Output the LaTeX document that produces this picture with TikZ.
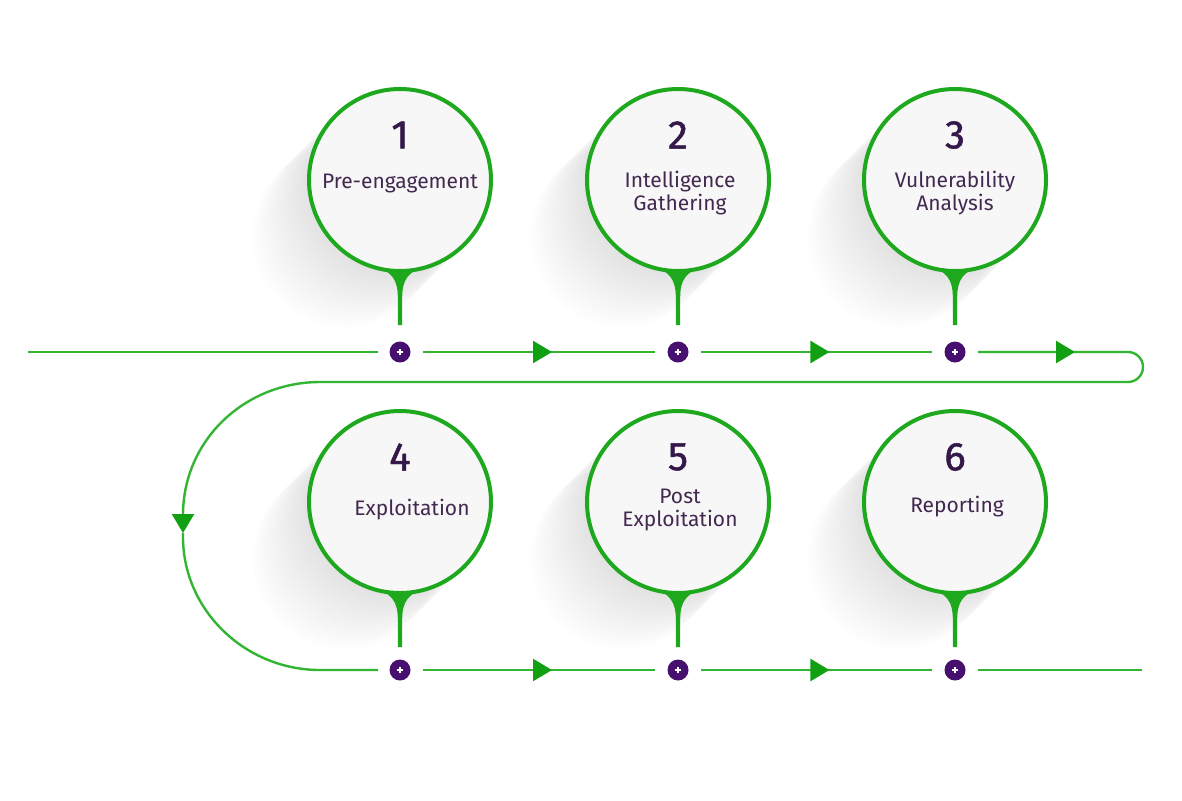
\documentclass[tikz,border=0pt]{standalone}
\usepackage{fontspec}
\setmainfont{Fira Sans}
\newfontfamily\numfont{Fira Sans}[FakeBold=1.2]
\usetikzlibrary{arrows.meta,decorations.markings,calc}
\definecolor{gline}{HTML}{33B533}
\definecolor{gring}{HTML}{1EA81E}
\definecolor{gtip}{HTML}{11A011}
\definecolor{dotc}{HTML}{48106E}
\definecolor{txt}{HTML}{43284F}
\definecolor{numc}{HTML}{35184A}
\definecolor{disk}{HTML}{F7F7F7}
\tikzset{
  stepcircle/.style={circle,draw=gring,line width=2pt,fill=disk,minimum size=91pt,inner sep=0pt},
  numtext/.style={font=\numfont\fontsize{20}{22}\selectfont,text=numc,inner sep=0pt},
  labtext/.style={font=\fontsize{10.5}{11.5}\selectfont,text=txt,align=center,inner sep=0pt},
  dotnode/.style={circle,fill=dotc,minimum size=10.5pt,inner sep=0pt,
    path picture={\draw[white,line width=0.75pt] ($(path picture bounding box.center)+(-1.7pt,0pt)$) -- ++(3.4pt,0pt)
      ($(path picture bounding box.center)+(0pt,-1.7pt)$) -- ++(0pt,3.4pt);}},
  flow/.style={draw=gline,line width=1.2pt},
  tiptri/.tip={Triangle[length=9.5pt,width=11pt,color=gtip]},
  arrowat/.style={postaction={decorate},decoration={markings,mark=at position #1 with {\arrow{tiptri}}}},
  stem/.pic={\fill[gring] (-30,85) .. controls (-7,91) and (-2.2,100) .. (-2.2,118) -- (-2.2,145) -- (2.2,145) -- (2.2,118) .. controls (2.2,100) and (7,91) .. (30,85) -- cycle;},
  castshadow/.pic={\foreach \k in {1,...,14}{\fill[black,opacity=0.008] (-\k*4,\k*4) circle[radius=45.5pt];}}
}
\begin{document}
\begin{tikzpicture}[x=0.5pt,y=-0.5pt]
\useasboundingbox (0,0) rectangle (1182,800);
\fill[white] (0,0) rectangle (1182,800);
% centres
\coordinate (p1) at (400,180);
\coordinate (p2) at (678,180);
\coordinate (p3) at (955,180);
\coordinate (p4) at (400,502);
\coordinate (p5) at (678,502);
\coordinate (p6) at (955,502);
% shadows and stems
\foreach \i in {1,...,6}{
  \pic at (p\i) {castshadow};
  \pic at (p\i) {stem};
}
% circles
\foreach \i in {1,...,6}{
  \node[stepcircle] (c\i) at (p\i) {};
}
% numbers and labels
\node[numtext] (n1) at (400,135) {1};
\node[numtext] (n2) at (678,135) {2};
\node[numtext] (n3) at (955,135) {3};
\node[numtext] (n4) at (400,457) {4};
\node[numtext] (n5) at (678,457) {5};
\node[numtext] (n6) at (955,457) {6};
\node[labtext] (l1) at (400,183) {Pre-engagement};
\node[labtext] (l2) at (680,193) {Intelligence\\Gathering};
\node[labtext] (l3) at (955,193) {Vulnerability\\Analysis};
\node[labtext] (l4) at (412,510) {Exploitation};
\node[labtext] (l5) at (680,510) {Post\\Exploitation};
\node[labtext] (l6) at (957,507) {Reporting};
% dots
\node[dotnode] (d1) at (400,352) {};
\node[dotnode] (d2) at (678,352) {};
\node[dotnode] (d3) at (955,352) {};
\node[dotnode] (d4) at (400,670) {};
\node[dotnode] (d5) at (678,670) {};
\node[dotnode] (d6) at (955,670) {};
% flow
\coordinate (start) at (28,352);
\coordinate (L) at (183,533);
\coordinate (finish) at (1142,670);
\path[flow] (start) -- ($(d1)+(-22,0)$);
\path[flow,arrowat=0.556] ($(d1)+(23,0)$) -- ($(d2)+(-23,0)$);
\path[flow,arrowat=0.556] ($(d2)+(23,0)$) -- ($(d3)+(-23,0)$);
\path[flow,arrowat=48.5pt,-tiptri] ($(d3)+(23,0)$) -- (1128,352)
  arc[start angle=-90,end angle=90,radius=15] -- (320,382)
  .. controls (245,382) and (183,440) .. (183,515) -- (L);
\path[flow] (L) -- (183,537) .. controls (183,610) and (245,670) .. (320,670) -- ($(d4)+(-22,0)$);
\path[flow,arrowat=0.556] ($(d4)+(23,0)$) -- ($(d5)+(-23,0)$);
\path[flow,arrowat=0.556] ($(d5)+(23,0)$) -- ($(d6)+(-23,0)$);
\path[flow] ($(d6)+(23,0)$) -- (finish);
\end{tikzpicture}
\end{document}
